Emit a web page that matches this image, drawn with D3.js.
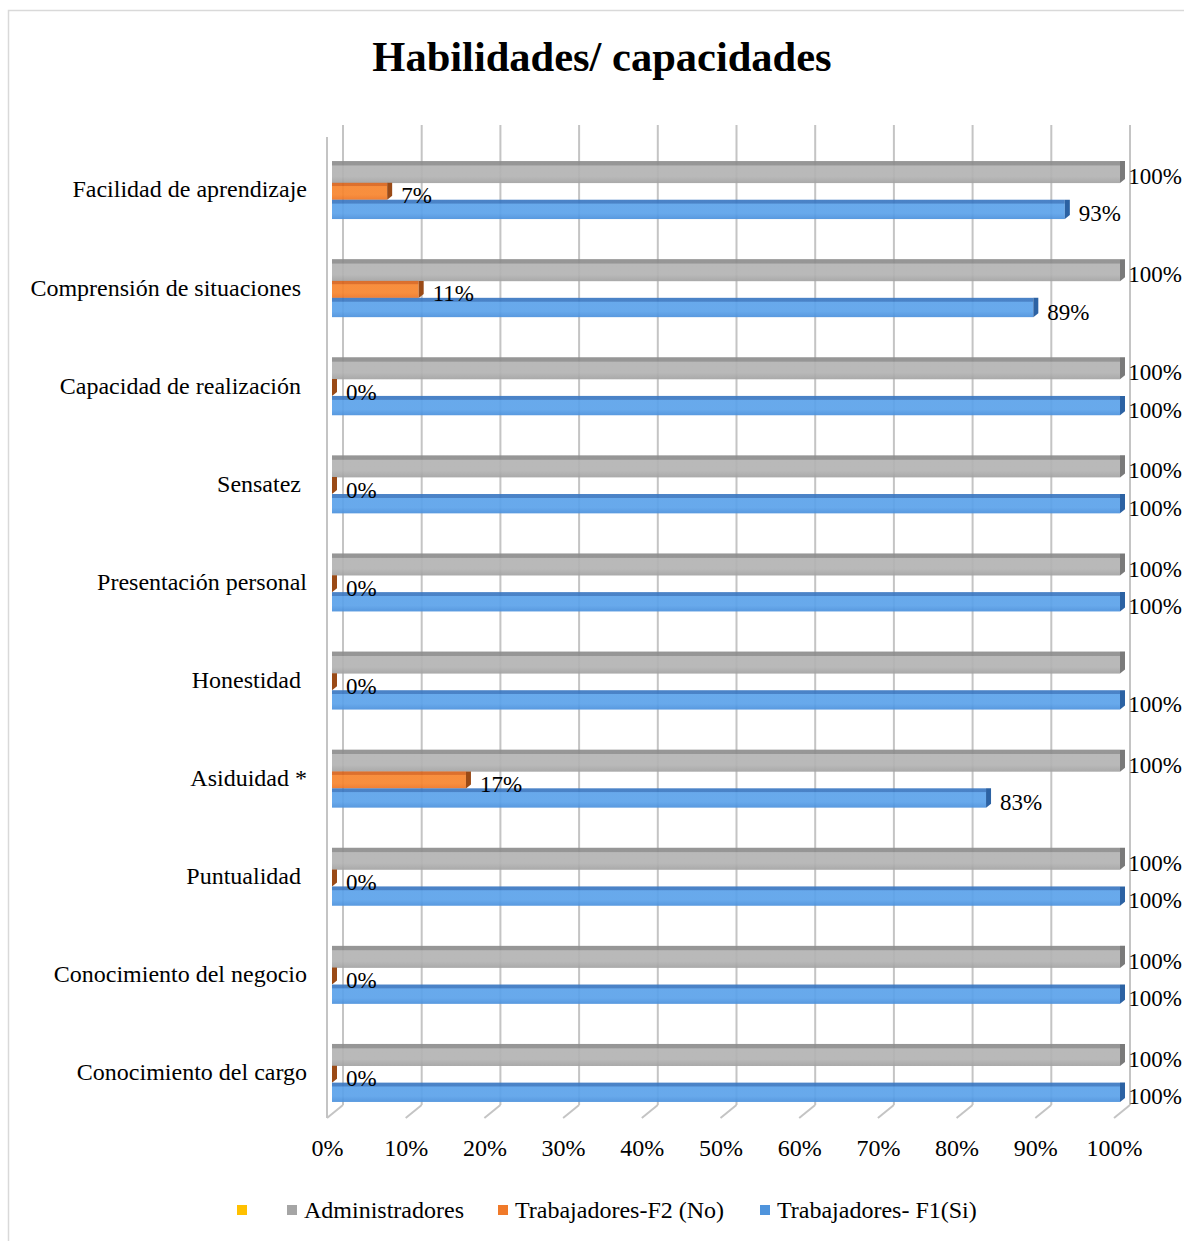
<!DOCTYPE html>
<html lang="es">
<head>
<meta charset="utf-8">
<title>Habilidades/ capacidades</title>
<script src="https://cdn.jsdelivr.net/npm/d3@7"></script>
<style>
  html, body { margin: 0; padding: 0; background: #ffffff; }
  svg { display: block; }
  text { font-family: "Liberation Serif", "Times New Roman", serif; fill: #000; white-space: pre; }
</style>
</head>
<body>
<svg id="chart" width="1184" height="1241"></svg>
<script>
// Categories, top to bottom (trailing spaces are part of the original labels)
const categories = [
  "Facilidad de aprendizaje",
  "Comprensión de situaciones ",
  "Capacidad de realización ",
  "Sensatez ",
  "Presentación personal",
  "Honestidad ",
  "Asiduidad *",
  "Puntualidad ",
  "Conocimiento del negocio",
  "Conocimiento del cargo"
];

// Series values (%), in category order
const administradores = [100, 100, 100, 100, 100, 100, 100, 100, 100, 100];
const trabajadoresNo  = [7, 11, 0, 0, 0, 0, 17, 0, 0, 0];
const trabajadoresSi  = [93, 89, 100, 100, 100, 100, 83, 100, 100, 100];

// Data labels not shown on the chart: [category index, series key]
const hiddenLabels = [[5, "admin"]];

// Axis ticks
const tickValues = [0, 10, 20, 30, 40, 50, 60, 70, 80, 90, 100];

// Legend entries (first entry is an unnamed series)
const legendNames = ["", "Administradores", "Trabajadores-F2 (No)", "Trabajadores- F1(Si)"];

const series = [
  { key: "admin", values: administradores },
  { key: "no",    values: trabajadoresNo },
  { key: "si",    values: trabajadoresSi }
];

const style = {
  admin: { top: "#8d8d8d", mid: "#b3b3b3", bot: "#a2a2a2", cap: "#7a7a7a", dy: 0,   dh: 2.7 },
  no:    { top: "#d9641c", mid: "#f7852e", bot: "#ee7424", cap: "#9a4a16", dy: 2.4, dh: -2.3 },
  si:    { top: "#3b78c2", mid: "#5ba2ea", bot: "#4a90dc", cap: "#2c62a3", dy: 0,   dh: 0 }
};
const legendColors = ["#ffc000", "#a5a5a5", "#f07a2a", "#4f94dc"];

const width = 1184;
const svg = d3.select("#chart");

// Chart frame
svg.append("rect")
  .attr("x", 8.5).attr("y", 10.5)
  .attr("width", 1220).attr("height", 1300)
  .attr("fill", "#fff").attr("stroke", "#d9d9d9").attr("stroke-width", 1.5);

// Title
svg.append("text")
  .attr("x", 602).attr("y", 71)
  .attr("text-anchor", "middle")
  .style("font-size", "42.5px").style("font-weight", "bold")
  .text("Habilidades/ capacidades");

// Scales: bar front plane, back wall and floor front edge
const xBar   = d3.scaleLinear().domain([0, 100]).range([332, 1120]);
const xBack  = d3.scaleLinear().domain([0, 100]).range([343, 1130]);
const xFloor = d3.scaleLinear().domain([0, 100]).range([327, 1114]);
const y = d3.scaleBand().domain(d3.range(categories.length)).range([141, 1122]);
const ySub = d3.scaleBand().domain(series.map(s => s.key)).range([-29, 29]);

const backTop = 125, backBottom = 1105, floorFront = 1118;

// Gradients for the shaded bar faces
const defs = svg.append("defs");
Object.entries(style).forEach(([k, s]) => {
  const g = defs.append("linearGradient")
    .attr("id", "grad-" + k).attr("x1", 0).attr("y1", 0).attr("x2", 0).attr("y2", 1);
  g.append("stop").attr("offset", "0%").attr("stop-color", s.top);
  g.append("stop").attr("offset", "18%").attr("stop-color", s.top);
  g.append("stop").attr("offset", "22%").attr("stop-color", s.mid);
  g.append("stop").attr("offset", "70%").attr("stop-color", s.mid);
  g.append("stop").attr("offset", "100%").attr("stop-color", s.bot);
});

// Back wall gridlines with floor diagonals
const grid = svg.append("g").attr("fill", "none").attr("stroke", "#c4c4c4").attr("stroke-width", 2);
grid.selectAll("line.v").data(tickValues).join("line")
  .attr("class", "v")
  .attr("x1", d => xBack(d)).attr("x2", d => xBack(d))
  .attr("y1", backTop).attr("y2", backBottom);
grid.selectAll("line.d").data(tickValues).join("line")
  .attr("class", "d")
  .attr("x1", d => xBack(d)).attr("y1", backBottom)
  .attr("x2", d => xFloor(d)).attr("y2", floorFront);
// Side wall front edge
grid.append("line")
  .attr("x1", xFloor(0)).attr("x2", xFloor(0))
  .attr("y1", backTop + 12).attr("y2", floorFront);

// Bars
const barsG = svg.append("g");
series.forEach(s => {
  const st = style[s.key];
  const g = barsG.append("g");
  s.values.forEach((v, i) => {
    const c = y(i) + y.bandwidth() / 2;
    const y0 = c + ySub(s.key) + st.dy;
    const h = ySub.bandwidth() + st.dh;
    const x0 = xBar(0), x1 = xBar(v);
    g.append("rect")
      .attr("x", x0).attr("y", y0)
      .attr("width", x1 - x0).attr("height", h)
      .attr("fill", `url(#grad-${s.key})`).attr("fill-opacity", 0.92);
    // end face
    g.append("polygon")
      .attr("points", [[x1, y0], [x1 + 5, y0], [x1 + 5, y0 + h - 4], [x1, y0 + h]].map(p => p.join(",")).join(" "))
      .attr("fill", st.cap);
  });
});

// Data labels (nudged left when they would run past the right edge)
const labelsG = svg.append("g").style("font-size", "23px");
series.forEach(s => {
  s.values.forEach((v, i) => {
    if (hiddenLabels.some(([ci, k]) => ci === i && k === s.key)) return;
    const st = style[s.key];
    const c = y(i) + y.bandwidth() / 2;
    const mid = c + ySub(s.key) + st.dy + (ySub.bandwidth() + st.dh) / 2;
    const t = labelsG.append("text")
      .attr("x", xBar(v) + 14)
      .attr("y", mid + 4)
      .attr("dy", "0.35em")
      .text(v + "%");
    const w = t.node().getComputedTextLength();
    const maxX = width - 2 - w;
    if (xBar(v) + 14 > maxX) t.attr("x", maxX);
  });
});

// Category labels
svg.append("g").style("font-size", "24px")
  .selectAll("text").data(categories).join("text")
  .attr("x", 307)
  .attr("y", (d, i) => y(i) + y.bandwidth() / 2 - 1)
  .attr("dy", "0.35em")
  .attr("text-anchor", "end")
  .text(d => d);

// Value axis along the floor front edge
const axis = d3.axisBottom(xFloor)
  .tickValues(tickValues)
  .tickFormat(d => d + "%")
  .tickSize(0)
  .tickPadding(0);
const axisG = svg.append("g").attr("transform", "translate(0,1139)").call(axis);
axisG.select(".domain").remove();
axisG.selectAll("text")
  .style("font-family", '"Liberation Serif", "Times New Roman", serif')
  .style("font-size", "24px").attr("fill", "#000");

// Legend
const legendX = [237, 287, 498, 760];
const legend = svg.append("g").style("font-size", "24px");
legendNames.forEach((name, i) => {
  legend.append("rect")
    .attr("x", legendX[i]).attr("y", 1205)
    .attr("width", 10).attr("height", 10)
    .attr("fill", legendColors[i]);
  if (name) {
    legend.append("text")
      .attr("x", legendX[i] + 17).attr("y", 1210)
      .attr("dy", "0.35em")
      .text(name);
  }
});
</script>
</body>
</html>
